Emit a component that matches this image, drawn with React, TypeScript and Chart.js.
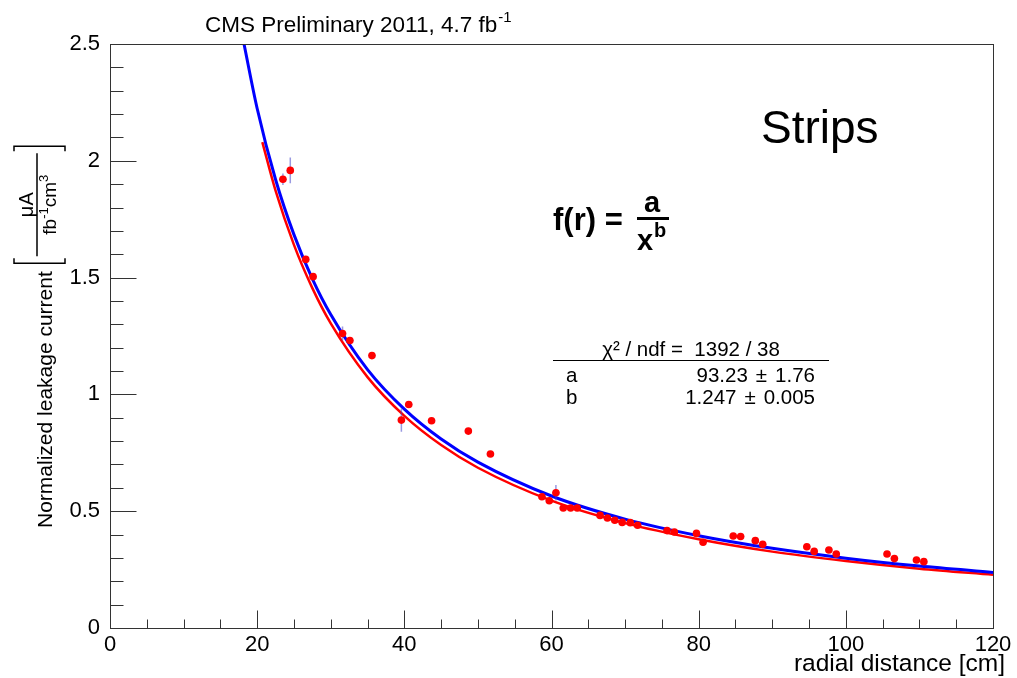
import React, { useEffect, useRef } from "react";
import { Chart, registerables } from "chart.js";
Chart.register(...registerables);

// ---- Data ----
const radius = [23.5, 24.5, 26.6, 27.6, 31.6, 32.6, 35.6, 39.6, 40.6, 43.7, 48.7, 51.7, 58.7, 59.7, 60.6, 61.6, 62.6, 63.5, 66.6, 67.6, 68.6, 69.6, 70.7, 71.7, 75.7, 76.7, 79.7, 80.6, 84.7, 85.7, 87.7, 88.7, 94.7, 95.7, 97.7, 98.7, 105.6, 106.6, 109.6, 110.6];
const leakage = [1.921, 1.959, 1.578, 1.504, 1.261, 1.231, 1.166, 0.89, 0.957, 0.887, 0.843, 0.745, 0.562, 0.545, 0.579, 0.514, 0.514, 0.514, 0.482, 0.471, 0.461, 0.452, 0.451, 0.44, 0.417, 0.411, 0.405, 0.367, 0.394, 0.392, 0.374, 0.358, 0.348, 0.328, 0.334, 0.317, 0.317, 0.297, 0.291, 0.284];
const leakageErr = [0.025, 0.055, 0.015, 0.01, 0.03, 0.01, 0.01, 0.05, 0.01, 0.01, 0.01, 0.01, 0.01, 0.01, 0.033, 0.01, 0.01, 0.01, 0.01, 0.01, 0.01, 0.01, 0.01, 0.01, 0.01, 0.01, 0.01, 0.01, 0.01, 0.01, 0.01, 0.01, 0.01, 0.01, 0.01, 0.01, 0.01, 0.01, 0.01, 0.01];
const radiusErr = [0.5, 0.5, 0.5, 0.5, 0.5, 0.5, 0.5, 0.5, 0.5, 0.5, 0.5, 0.5, 0.5, 0.5, 0.5, 0.5, 0.5, 0.5, 0.5, 0.5, 0.5, 0.5, 0.5, 0.5, 0.5, 0.5, 0.5, 0.5, 0.5, 0.5, 0.5, 0.5, 0.5, 0.5, 0.5, 0.5, 0.5, 0.5, 0.5, 0.5];

// blue fit curve
const blueR = [18.2, 20, 22.5, 25, 27.5, 30, 35, 40, 45, 50, 60, 70, 80, 90, 100, 110, 120];
const blueI = [2.502, 2.224, 1.92, 1.684, 1.495, 1.342, 1.106, 0.937, 0.809, 0.71, 0.565, 0.466, 0.395, 0.341, 0.299, 0.265, 0.238];
// red curve
const redR = [20.7, 22.5, 25, 27.5, 30, 35, 40, 45, 50, 60, 70, 80, 90, 100, 110, 120];
const redI = [2.08, 1.872, 1.64, 1.455, 1.304, 1.074, 0.908, 0.783, 0.686, 0.545, 0.449, 0.38, 0.327, 0.287, 0.254, 0.228];

const xTicks = [0, 20, 40, 60, 80, 100, 120];
const yTicks = [0, 0.5, 1, 1.5, 2, 2.5];
const yTickLabels = ["0", "0.5", "1", "1.5", "2", "2.5"];

const fitRows: [string, string, string][] = [
  ["a", "93.23", "1.76"],
  ["b", "1.247", "0.005"],
];

const FONT = "'Liberation Sans', Arial, Helvetica, sans-serif";

const overlay = {
  id: "overlay",
  beforeDatasetDraw(chart: any, args: any) {
    if (args.index !== 0) return;
    const { ctx, chartArea } = chart;
    const xs = chart.scales.x;
    const ys = chart.scales.y;
    ctx.save();
    ctx.beginPath();
    ctx.rect(chartArea.left, chartArea.top, chartArea.right - chartArea.left, chartArea.bottom - chartArea.top);
    ctx.clip();
    ctx.strokeStyle = "rgba(70,70,200,0.55)";
    ctx.lineWidth = 1.5;
    for (let i = 0; i < radius.length; i++) {
      const px = xs.getPixelForValue(radius[i]);
      const py = ys.getPixelForValue(leakage[i]);
      ctx.beginPath();
      ctx.moveTo(px, ys.getPixelForValue(leakage[i] - leakageErr[i]));
      ctx.lineTo(px, ys.getPixelForValue(leakage[i] + leakageErr[i]));
      ctx.moveTo(xs.getPixelForValue(radius[i] - radiusErr[i]), py);
      ctx.lineTo(xs.getPixelForValue(radius[i] + radiusErr[i]), py);
      ctx.stroke();
    }
    ctx.restore();
  },
  afterDraw(chart: any) {
    const { ctx, chartArea } = chart;
    const xs = chart.scales.x;
    const ys = chart.scales.y;
    const L = Math.round(chartArea.left) + 0.5;
    const R = Math.round(chartArea.right) + 0.5;
    const T = Math.round(chartArea.top) + 0.5;
    const B = Math.round(chartArea.bottom) + 0.5;
    ctx.save();
    ctx.strokeStyle = "#333";
    ctx.lineWidth = 1;
    ctx.strokeRect(L, T, R - L, B - T);
    ctx.beginPath();
    for (let v = 0; v <= 120; v += 5) {
      const px = Math.round(xs.getPixelForValue(v)) + 0.5;
      const len = v % 20 === 0 ? 18 : 9;
      ctx.moveTo(px, B);
      ctx.lineTo(px, B - len);
    }
    for (let i = 0; i <= 25; i++) {
      const py = Math.round(ys.getPixelForValue(i / 10)) + 0.5;
      const len = i % 5 === 0 ? 26 : 13;
      ctx.moveTo(L, py);
      ctx.lineTo(L + len, py);
    }
    ctx.stroke();

    ctx.fillStyle = "#000";
    ctx.textAlign = "left";
    ctx.textBaseline = "alphabetic";
    // title
    ctx.font = `22.5px ${FONT}`;
    const t1 = "CMS Preliminary 2011, 4.7 fb";
    ctx.fillText(t1, 205, 32);
    const w1 = ctx.measureText(t1).width;
    ctx.font = `15px ${FONT}`;
    ctx.fillText("-1", 205 + w1 + 1, 22);

    // x title
    ctx.font = `24.5px ${FONT}`;
    ctx.textAlign = "right";
    ctx.fillText("radial distance [cm]", 1005, 671);

    // y title
    ctx.save();
    ctx.translate(52, 528);
    ctx.rotate(-Math.PI / 2);
    ctx.textAlign = "left";
    ctx.font = `21px ${FONT}`;
    const yt = "Normalized leakage current";
    ctx.fillText(yt, 0, 0);
    const wy = ctx.measureText(yt).width;
    const u0 = wy + 8;
    const u1 = u0 + 117;
    ctx.strokeStyle = "#000";
    ctx.lineWidth = 1.5;
    ctx.beginPath();
    ctx.moveTo(u0 + 5, -38);
    ctx.lineTo(u0, -38);
    ctx.lineTo(u0, 13);
    ctx.lineTo(u0 + 5, 13);
    ctx.moveTo(u1 - 5, -38);
    ctx.lineTo(u1, -38);
    ctx.lineTo(u1, 13);
    ctx.lineTo(u1 - 5, 13);
    ctx.moveTo(u0 + 7, -15);
    ctx.lineTo(u1 - 7, -15);
    ctx.stroke();
    const uc = (u0 + u1) / 2;
    ctx.textAlign = "center";
    ctx.font = `20px ${FONT}`;
    ctx.fillText("\u03bcA", uc, -19);
    // denominator fb^-1 cm^3
    const parts: [string, boolean][] = [["fb", false], ["-1", true], ["cm", false], ["3", true]];
    let tw = 0;
    for (const [s, sup] of parts) {
      ctx.font = `${sup ? 13 : 19}px ${FONT}`;
      tw += ctx.measureText(s).width;
    }
    let u = uc - tw / 2;
    ctx.textAlign = "left";
    for (const [s, sup] of parts) {
      ctx.font = `${sup ? 13 : 19}px ${FONT}`;
      ctx.fillText(s, u, sup ? -4 : 4);
      u += ctx.measureText(s).width;
    }
    ctx.restore();

    // Strips
    ctx.textAlign = "left";
    ctx.font = `46px ${FONT}`;
    ctx.fillText("Strips", 761, 143);

    // formula
    ctx.font = `bold 31px ${FONT}`;
    ctx.fillText("f(r) =", 553, 230);
    ctx.textAlign = "center";
    ctx.font = `bold 29px ${FONT}`;
    ctx.fillText("a", 652, 212);
    ctx.fillRect(637, 217, 32, 3);
    ctx.textAlign = "left";
    ctx.fillText("x", 637, 250);
    ctx.font = `bold 20px ${FONT}`;
    ctx.fillText("b", 654, 237);

    // fit statistics
    ctx.font = `20.5px ${FONT}`;
    ctx.textAlign = "center";
    ctx.fillText("\u03c7\u00b2 / ndf =  1392 / 38", 691, 356);
    ctx.strokeStyle = "#000";
    ctx.lineWidth = 1;
    ctx.beginPath();
    ctx.moveTo(553, 360.5);
    ctx.lineTo(829, 360.5);
    ctx.stroke();
    const rowY = [382, 404];
    fitRows.forEach(([name, val, err], k) => {
      const y = rowY[k];
      ctx.textAlign = "left";
      ctx.fillText(name, 566, y);
      ctx.textAlign = "right";
      let xr = 815;
      ctx.fillText(err, xr, y);
      xr -= ctx.measureText(err).width + 8;
      ctx.fillText("\u00b1", xr, y);
      xr -= ctx.measureText("\u00b1").width + 8;
      ctx.fillText(val, xr, y);
    });
    ctx.restore();
  },
};

export default function App() {
  const ref = useRef<HTMLCanvasElement | null>(null);
  useEffect(() => {
    if (!ref.current) return;
    const chart = new Chart(ref.current, {
      type: "scatter",
      data: {
        datasets: [
          {
            label: "data",
            data: radius.map((r, i) => ({ x: r, y: leakage[i] })),
            showLine: false,
            pointRadius: 3.8,
            pointHoverRadius: 3.8,
            pointBackgroundColor: "#ff0000",
            pointBorderWidth: 0,
            order: 0,
          },
          {
            label: "fit",
            data: blueR.map((r, i) => ({ x: r, y: blueI[i] })),
            showLine: true,
            pointRadius: 0,
            borderColor: "#0000ff",
            borderWidth: 3,
            cubicInterpolationMode: "monotone",
            clip: 0,
            order: 1,
          },
          {
            label: "ref",
            data: redR.map((r, i) => ({ x: r, y: redI[i] })),
            showLine: true,
            pointRadius: 0,
            borderColor: "#ff0000",
            borderWidth: 2.5,
            cubicInterpolationMode: "monotone",
            clip: 0,
            order: 2,
          },
        ] as any,
      },
      options: {
        responsive: false,
        animation: false,
        devicePixelRatio: 1,
        events: [],
        layout: { padding: { top: 44, right: 24, left: 0, bottom: 0 } },
        plugins: { legend: { display: false }, tooltip: { enabled: false }, title: { display: false } },
        scales: {
          x: {
            type: "linear",
            min: 0,
            max: 120,
            grid: { display: false, drawTicks: false },
            border: { display: false },
            afterBuildTicks: (s: any) => {
              s.ticks = xTicks.map((v) => ({ value: v }));
            },
            afterFit: (s: any) => {
              s.height = 50;
            },
            ticks: {
              padding: 4,
              color: "#000",
              font: { family: FONT, size: 22 },
              maxRotation: 0,
              callback: (v: any) => String(v),
            },
          },
          y: {
            type: "linear",
            min: 0,
            max: 2.5,
            grid: { display: false, drawTicks: false },
            border: { display: false },
            afterBuildTicks: (s: any) => {
              s.ticks = yTicks.map((v) => ({ value: v }));
            },
            afterFit: (s: any) => {
              s.width = 110;
            },
            ticks: {
              padding: 10,
              color: "#000",
              font: { family: FONT, size: 22 },
              callback: (v: any) => {
                const idx = yTicks.indexOf(Number(v));
                return idx >= 0 ? yTickLabels[idx] : "";
              },
            },
          },
        },
      },
      plugins: [overlay],
    });
    return () => chart.destroy();
  }, []);
  return (
    <div style={{ position: "fixed", left: 0, top: 0, width: 1017, height: 678, background: "#fff" }}>
      <canvas ref={ref} width={1017} height={678} style={{ display: "block", width: 1017, height: 678 }} />
    </div>
  );
}
